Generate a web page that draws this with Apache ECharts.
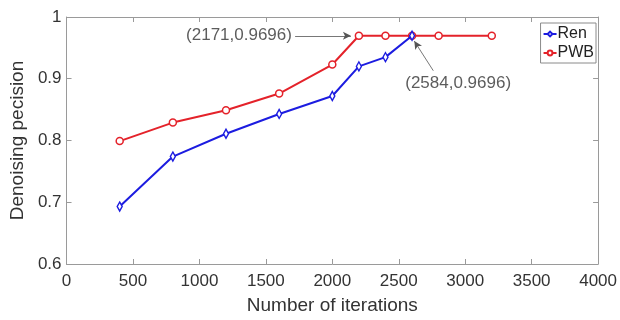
<!DOCTYPE html>
<html>
<head>
<meta charset="utf-8">
<script src="https://cdn.jsdelivr.net/npm/echarts@6/dist/echarts.min.js"></script>
<style>html,body{margin:0;padding:0;background:#fff;}#c{width:620px;height:320px;}</style>
</head>
<body>
<div id="c"></div>
<script>
var xTicks = [0, 500, 1000, 1500, 2000, 2500, 3000, 3500, 4000];
var yTicks = [0.6, 0.7, 0.8, 0.9, 1];
var renX = [400, 800, 1200, 1600, 2000, 2200, 2400, 2600];
var renY = [0.693, 0.774, 0.811, 0.843, 0.872, 0.920, 0.935, 0.9696];
var pwbX = [400, 800, 1200, 1600, 2000, 2200, 2400, 2600, 2800, 3200];
var pwbY = [0.799, 0.829, 0.849, 0.876, 0.923, 0.9696, 0.9696, 0.9696, 0.9696, 0.9696];
var annoText = ['(2171,0.9696)', '(2584,0.9696)'];
var annoTextAt = [[1700, 0.9696], [2545, 0.892]];
var annoArrowFrom = [[1720, 0.9696], [2760, 0.913]];
var annoArrowTo = [[2140, 0.9696], [2617, 0.961]];

function zip(xs, ys) { return xs.map(function (x, i) { return [x, ys[i]]; }); }

var font = 'Liberation Sans, Arial, sans-serif';
var axisCol = '#9a9a9a';
var chart = echarts.init(document.getElementById('c'), null, {renderer: 'canvas'});
var baseX = {
  type: 'value', min: 0, max: 4000, interval: 500,
  axisLine: {show: true, onZero: false, lineStyle: {color: axisCol, width: 1}},
  axisTick: {show: true, inside: true, length: 5, lineStyle: {color: axisCol}},
  splitLine: {show: false}
};
var baseY = {
  type: 'value', min: 0.6, max: 1, interval: 0.1,
  axisLine: {show: true, onZero: false, lineStyle: {color: axisCol, width: 1}},
  axisTick: {show: true, inside: true, length: 5, lineStyle: {color: axisCol}},
  splitLine: {show: false}
};
var annoData = annoTextAt.map(function (p, i) {
  return {value: p, name: annoText[i], label: {position: i === 0 ? 'left' : 'right', distance: 0}};
});
chart.setOption({
  animation: false,
  backgroundColor: '#fff',
  grid: {left: 63, right: 18, top: 17, bottom: 52},
  xAxis: [
    Object.assign({}, baseX, {
      position: 'bottom',
      name: 'Number of iterations', nameLocation: 'middle', nameGap: 32,
      nameTextStyle: {fontFamily: font, fontSize: 19, color: '#333'},
      axisLabel: {fontFamily: font, fontSize: 17, color: '#333', margin: 9,
        formatter: function (v) { return xTicks.indexOf(v) >= 0 ? String(v) : ''; }}
    }),
    Object.assign({}, baseX, {position: 'top', axisLabel: {show: false}})
  ],
  yAxis: [
    Object.assign({}, baseY, {
      position: 'left',
      name: 'Denoising pecision', nameLocation: 'middle', nameGap: 38,
      nameTextStyle: {fontFamily: font, fontSize: 19, color: '#333'},
      axisLabel: {fontFamily: font, fontSize: 17, color: '#333', margin: 5,
        formatter: function (v) {
          for (var i = 0; i < yTicks.length; i++) if (Math.abs(yTicks[i] - v) < 1e-6) return String(yTicks[i]);
          return '';
        }}
    }),
    Object.assign({}, baseY, {position: 'right', axisLabel: {show: false}})
  ],
  legend: {
    right: 24, top: 23, orient: 'vertical',
    data: ['Ren', 'PWB'],
    itemWidth: 13, itemHeight: 6, itemGap: 3,
    padding: [3, 2, 2, 2],
    borderColor: '#8a8a8a', borderWidth: 1, backgroundColor: '#fff',
    textStyle: {fontFamily: font, fontSize: 16, color: '#222', padding: [0, 0, 0, -4]}
  },
  series: [
    {
      name: 'Ren', type: 'line', data: zip(renX, renY),
      symbol: 'diamond', symbolSize: [5, 9], showSymbol: true,
      lineStyle: {color: '#1c1ce0', width: 2},
      itemStyle: {color: '#fff', borderColor: '#1c1ce0', borderWidth: 1.5},
      z: 3
    },
    {
      name: 'PWB', type: 'line', data: zip(pwbX, pwbY),
      symbol: 'circle', symbolSize: 7,
      lineStyle: {color: '#e4222a', width: 2},
      itemStyle: {color: '#fff', borderColor: '#e4222a', borderWidth: 1.5},
      z: 2,
      markLine: {
        silent: true, symbol: ['none', 'arrow'], symbolSize: [6, 8],
        lineStyle: {color: '#555', width: 0.8, type: 'solid'},
        label: {show: false},
        data: annoArrowFrom.map(function (p, i) { return [{coord: p}, {coord: annoArrowTo[i]}]; })
      }
    },
    {
      name: 'anno', type: 'scatter', data: annoData,
      symbolSize: 1, itemStyle: {color: 'rgba(0,0,0,0)'},
      label: {
        show: true, fontFamily: font, fontSize: 17, color: '#333',
        formatter: function (p) { return p.name; }
      },
      z: 5
    }
  ]
});
</script>
</body>
</html>
